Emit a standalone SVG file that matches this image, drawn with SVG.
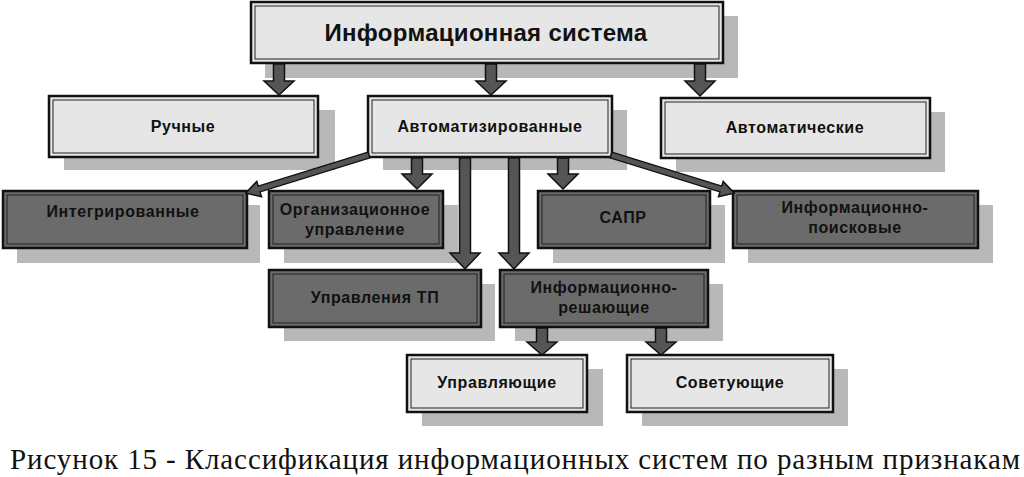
<svg xmlns="http://www.w3.org/2000/svg" width="1024" height="477" viewBox="0 0 1024 477">
<style>
.shadow{fill:#b8b8b8}
.light{fill:#e6e6e6;stroke:#111;stroke-width:2.5}
.dark{fill:#6b6b6b;stroke:#111;stroke-width:2.5}
.inner{fill:none;stroke:#222;stroke-width:1}
.t{font-family:"Liberation Sans",Arial,sans-serif;font-weight:bold;font-size:16px;letter-spacing:0.6px;fill:#111;text-anchor:middle}
.title{font-size:24px;letter-spacing:0.3px}
.arr{fill:#555;stroke:#111;stroke-width:1.5;stroke-linejoin:miter}
.cap{font-family:"Liberation Serif","Times New Roman",serif;font-size:29px;fill:#111}
</style>
<rect width="1024" height="477" fill="#fff"/>

<g id="n-is">
<rect class="shadow" x="265" y="16" width="473" height="62"/>
<rect class="light" x="251" y="2" width="472" height="61" fill="#ececec"/>
<rect class="inner" x="255" y="6" width="464" height="53"/>
<text class="t title" x="486" y="41">Информационная система</text>
</g>

<g id="n-manual">
<rect class="shadow" x="64" y="110" width="271" height="60"/>
<rect class="light" x="49" y="96" width="269" height="61"/>
<rect class="inner" x="53" y="100" width="261" height="53"/>
<text class="t" x="183" y="132">Ручные</text>
</g>

<g id="n-automated">
<rect class="shadow" x="383" y="110" width="244" height="60"/>
<rect class="light" x="368" y="96" width="244" height="61"/>
<rect class="inner" x="372" y="100" width="236" height="53"/>
<text class="t" x="490" y="132">Автоматизированные</text>
</g>

<g id="n-automatic">
<rect class="shadow" x="676" y="112" width="269" height="60"/>
<rect class="light" x="661" y="98" width="269" height="60"/>
<rect class="inner" x="665" y="102" width="261" height="52"/>
<text class="t" x="795" y="133">Автоматические</text>
</g>

<g id="n-integrated">
<rect class="shadow" x="17" y="205" width="243" height="58"/>
<rect class="dark" x="3" y="191" width="244" height="57"/>
<rect class="inner" x="7" y="195" width="236" height="49"/>
<text class="t" x="123" y="217">Интегрированные</text>
</g>

<g id="n-org">
<rect class="shadow" x="284" y="205" width="174" height="58"/>
<rect class="dark" x="269" y="191" width="174" height="57"/>
<rect class="inner" x="273" y="195" width="166" height="49"/>
<text class="t" x="355" y="215">Организационное</text>
<text class="t" x="355" y="235">управление</text>
</g>

<g id="n-sapr">
<rect class="shadow" x="553" y="205" width="172" height="58"/>
<rect class="dark" x="538" y="191" width="172" height="57"/>
<rect class="inner" x="542" y="195" width="164" height="49"/>
<text class="t" x="623" y="223">САПР</text>
</g>

<g id="n-search">
<rect class="shadow" x="748" y="205" width="245" height="58"/>
<rect class="dark" x="733" y="191" width="245" height="57"/>
<rect class="inner" x="737" y="195" width="237" height="49"/>
<text class="t" x="855" y="213">Информационно-</text>
<text class="t" x="855" y="233">поисковые</text>
</g>

<g id="n-tp">
<rect class="shadow" x="284" y="284" width="211" height="57"/>
<rect class="dark" x="269" y="270" width="212" height="57"/>
<rect class="inner" x="273" y="274" width="204" height="49"/>
<text class="t" x="375" y="303">Управления ТП</text>
</g>

<g id="n-decision">
<rect class="shadow" x="515" y="284" width="208" height="57"/>
<rect class="dark" x="500" y="270" width="208" height="57"/>
<rect class="inner" x="504" y="274" width="200" height="49"/>
<text class="t" x="604" y="293">Информационно-</text>
<text class="t" x="604" y="313">решающие</text>
</g>

<g id="n-control">
<rect class="shadow" x="422" y="369" width="181" height="57"/>
<rect class="light" x="407" y="355" width="180" height="57"/>
<rect class="inner" x="411" y="359" width="172" height="49"/>
<text class="t" x="497" y="388">Управляющие</text>
</g>

<g id="n-advise">
<rect class="shadow" x="642" y="369" width="206" height="57"/>
<rect class="light" x="627" y="355" width="206" height="57"/>
<rect class="inner" x="631" y="359" width="198" height="49"/>
<text class="t" x="730" y="388">Советующие</text>
</g>

<g id="connectors">
<polygon class="arr" points="273.5,64 284.5,64 284.5,81 294,81 279,95 264,81 273.5,81"/>
<polygon class="arr" points="485.5,64 496.5,64 496.5,81 506,81 491,95 476,81 485.5,81"/>
<polygon class="arr" points="694.5,64 705.5,64 705.5,81 715,81 700,96 685,81 694.5,81"/>
<polygon class="arr" points="411.5,158 422.5,158 422.5,174 432,174 417,189 402,174 411.5,174"/>
<polygon class="arr" points="557.5,158 568.5,158 568.5,174 578,174 563,189 548,174 557.5,174"/>
<polygon class="arr" points="459.5,158 470.5,158 470.5,253 480,253 465,269 450,253 459.5,253"/>
<polygon class="arr" points="508.5,158 519.5,158 519.5,253 529,253 514,269 499,253 508.5,253"/>
<polygon class="arr" points="536.5,328 547.5,328 547.5,342 557,342 542,355 527,342 536.5,342"/>
<polygon class="arr" points="655.5,328 666.5,328 666.5,342 676,342 661,355 646,342 655.5,342"/>
<polygon class="arr" transform="translate(369,155) rotate(162.8)" points="0,-3 115,-3 115,-8 129,0 115,8 115,3 0,3"/>
<polygon class="arr" transform="translate(611,155) rotate(17.2)" points="0,-3 115,-3 115,-8 129,0 115,8 115,3 0,3"/>
</g>

<text id="caption" class="cap" x="10" y="469" textLength="1010" lengthAdjust="spacing">Рисунок 15 - Классификация информационных систем по разным признакам</text>
</svg>
